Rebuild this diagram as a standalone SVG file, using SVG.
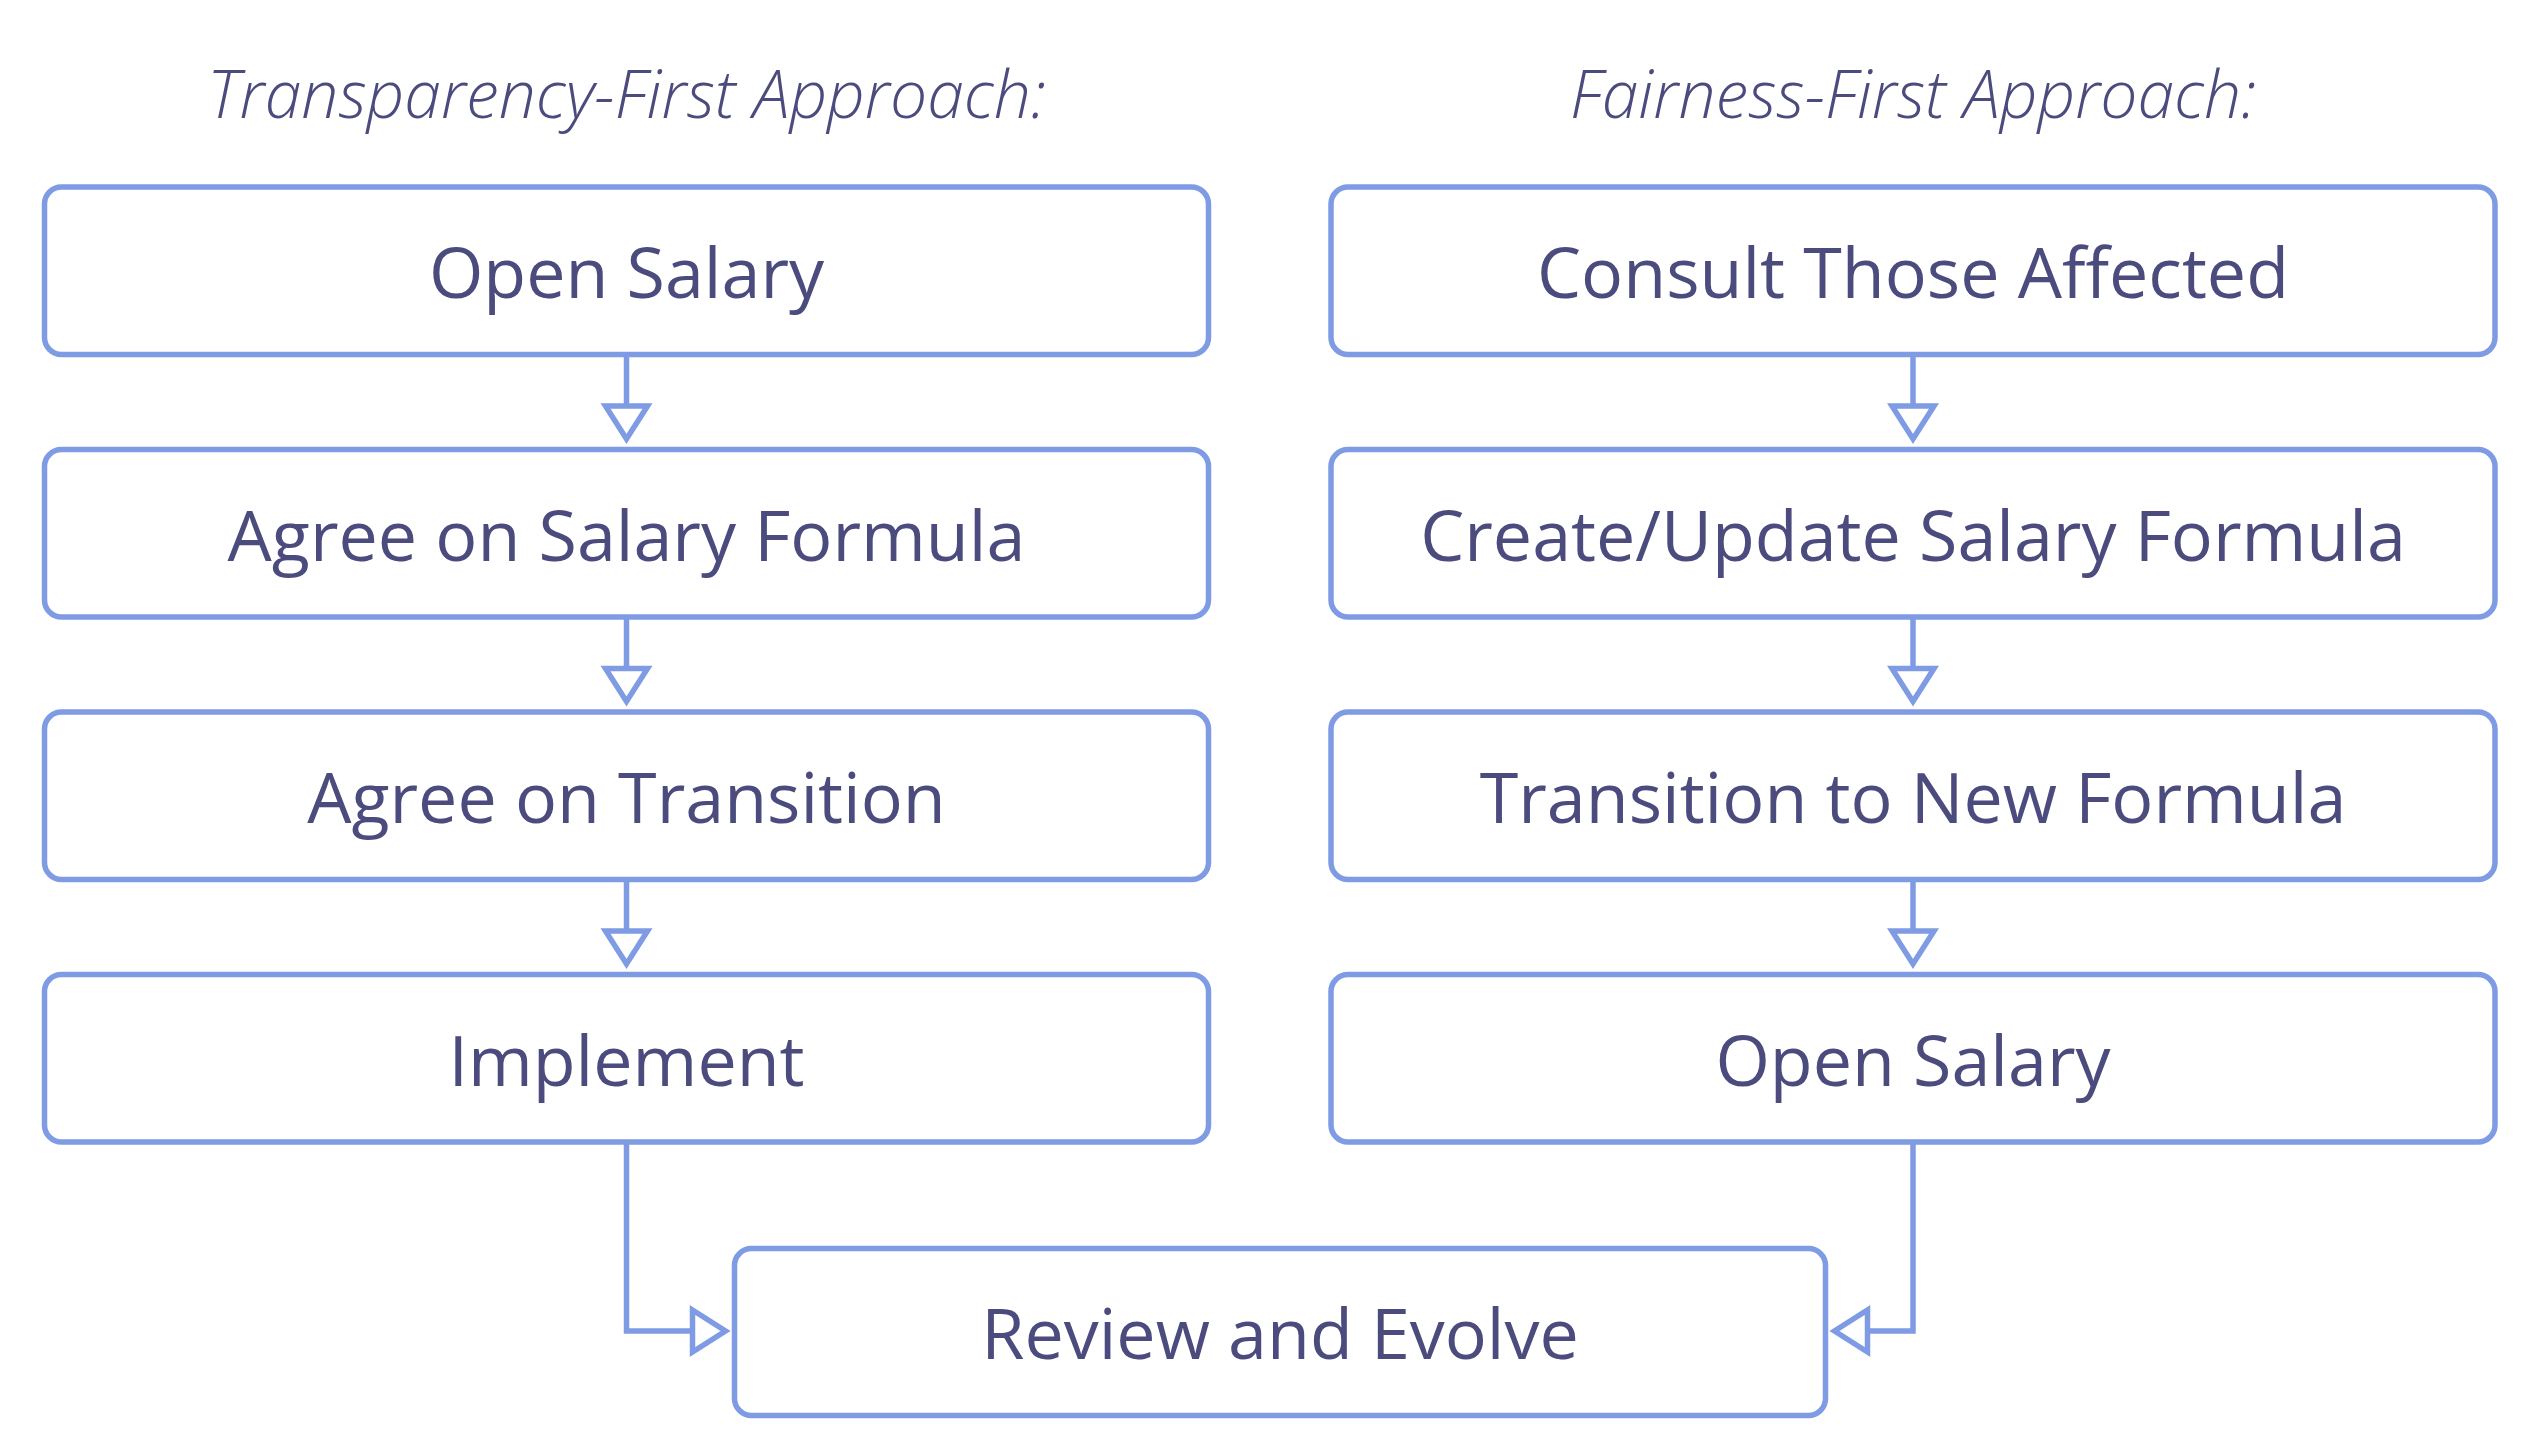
<svg xmlns="http://www.w3.org/2000/svg" width="2540" height="1440" viewBox="0 0 2540 1440">
<style>
.box{fill:#ffffff;stroke:#7f9be4;stroke-width:5.5}
.lbl{font-family:"Open Sans","Noto Sans","Liberation Sans",sans-serif;font-size:70px;fill:#4b4b7e;text-anchor:middle}
.ttl{font-family:"Open Sans","Noto Sans","Liberation Sans",sans-serif;font-size:66px;font-style:italic;font-weight:300;fill:#4b4b7e;text-anchor:middle}
.edge{fill:none;stroke:#7f9be4;stroke-width:5.5;marker-end:url(#arr)}
</style>
<defs>
<marker id="arr" markerUnits="userSpaceOnUse" viewBox="-40 -28 46 56" markerWidth="46" markerHeight="56" refX="0" refY="0" orient="auto" overflow="visible">
<path d="M-33,-21 L0,0 L-33,21 Z" fill="#ffffff" stroke="#7f9be4" stroke-width="5.5" stroke-linejoin="miter"/>
</marker>
</defs>
<rect width="2540" height="1440" fill="#ffffff"/>
<text class="ttl" x="626.5" y="118">Transparency-First Approach:</text>
<text class="ttl" x="1913" y="118">Fairness-First Approach:</text>
<g id="connectors">
<path class="edge" d="M626.5,354.5 V439"/>
<path class="edge" d="M626.5,617 V701.5"/>
<path class="edge" d="M626.5,879.5 V964"/>
<path class="edge" d="M1913,354.5 V439"/>
<path class="edge" d="M1913,617 V701.5"/>
<path class="edge" d="M1913,879.5 V964"/>
<path class="edge" d="M626.5,1142 V1331 H725.5"/>
<path class="edge" d="M1913,1142 V1331 H1834.5"/>
</g>
<g id="t1"><rect class="box" x="44.5" y="187" width="1164" height="167.5" rx="17"/><text class="lbl" x="626.5" y="298">Open Salary</text></g>
<g id="t2"><rect class="box" x="44.5" y="449.5" width="1164" height="167.5" rx="17"/><text class="lbl" x="626.5" y="560.5">Agree on Salary Formula</text></g>
<g id="t3"><rect class="box" x="44.5" y="712" width="1164" height="167.5" rx="17"/><text class="lbl" x="626.5" y="823">Agree on Transition</text></g>
<g id="t4"><rect class="box" x="44.5" y="974.5" width="1164" height="167.5" rx="17"/><text class="lbl" x="626.5" y="1085.5">Implement</text></g>
<g id="f1"><rect class="box" x="1331" y="187" width="1164" height="167.5" rx="17"/><text class="lbl" x="1913" y="298">Consult Those Affected</text></g>
<g id="f2"><rect class="box" x="1331" y="449.5" width="1164" height="167.5" rx="17"/><text class="lbl" x="1913" y="560.5">Create/Update Salary Formula</text></g>
<g id="f3"><rect class="box" x="1331" y="712" width="1164" height="167.5" rx="17"/><text class="lbl" x="1913" y="823">Transition to New Formula</text></g>
<g id="f4"><rect class="box" x="1331" y="974.5" width="1164" height="167.5" rx="17"/><text class="lbl" x="1913" y="1085.5">Open Salary</text></g>
<g id="review"><rect class="box" x="734.5" y="1248.5" width="1091" height="167" rx="17"/><text class="lbl" x="1280" y="1359">Review and Evolve</text></g>
</svg>
